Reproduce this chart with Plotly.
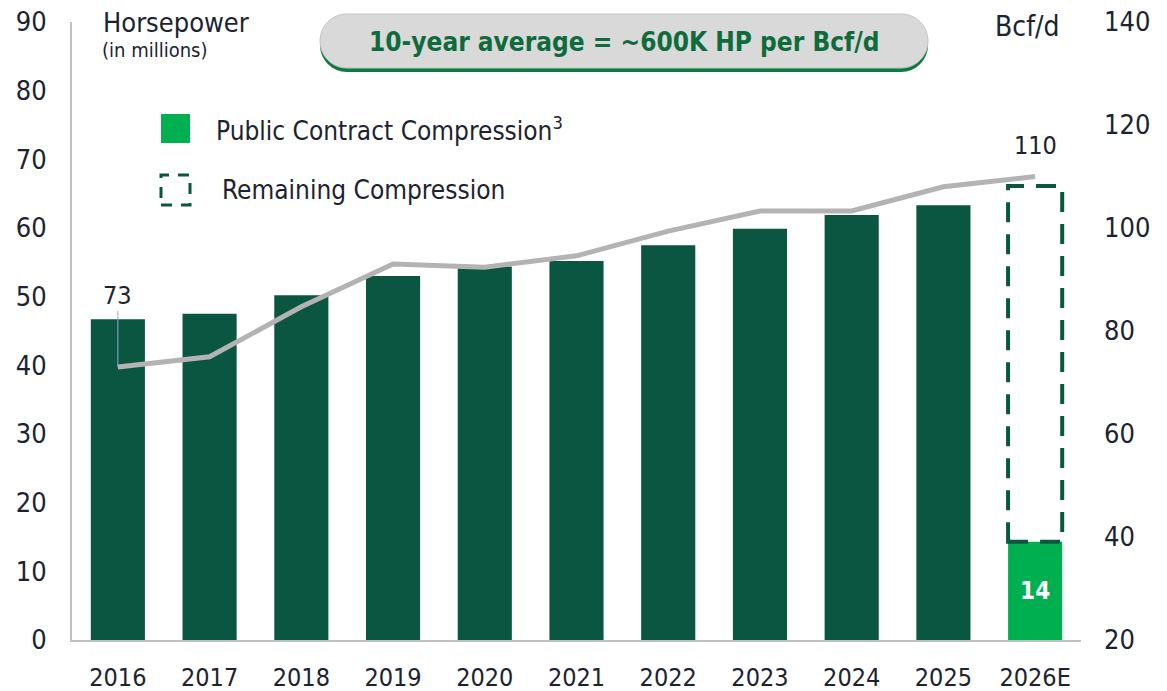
import plotly.graph_objects as go

# data
years = ['2016', '2017', '2018', '2019', '2020', '2021', '2022', '2023', '2024', '2025', '2026E']
horsepower = [46.7, 47.5, 50.2, 53.0, 54.4, 55.2, 57.5, 59.9, 61.9, 63.3, 14.3]
remaining_top = 66.1          # top of the dashed 2026E box (millions HP)
bcfd = [73, 75, 84.7, 93, 92.4, 94.6, 99.4, 103.3, 103.3, 108, 110]

DARK = '#0B5640'
BRIGHT = '#00B050'
GREY_LINE = '#B3B3B3'
TXT = '#1C2330'
FONT = 'DejaVu Sans Condensed, Tahoma, DejaVu Sans, sans-serif'

# page has an 8px body margin, so the figure is a bit smaller and shifted
OFF = 8
W, H = 1167 - OFF, 691 - OFF
L, R, T, B = 72 - OFF, 86, 22 - OFF, 51
PW, PH = W - L - R, H - T - B

def px(x):      # screen pixel -> paper x
    return (x - OFF - L) / PW

def py(y):      # screen pixel -> paper y
    return (H + OFF - B - y) / PH

bar_colors = [DARK] * (len(years) - 1) + [BRIGHT]
bar_text = [''] * (len(years) - 1) + [f'<b>{horsepower[-1]:.0f}</b>']

fig = go.Figure()
fig.add_trace(go.Bar(x=years, y=horsepower, marker=dict(color=bar_colors, line=dict(width=0)),
                     text=bar_text, textposition='inside', insidetextanchor='middle',
                     textfont=dict(color='white', size=24, family=FONT), textangle=0,
                     showlegend=False, hoverinfo='skip'))
fig.add_trace(go.Scatter(x=years, y=bcfd, yaxis='y2', mode='lines',
                         line=dict(color=GREY_LINE, width=5), showlegend=False))

# dashed box for remaining compression on the last bar
i_last = len(years) - 1
half = 0.295
fig.add_shape(type='rect', xref='x', yref='y', x0=i_last - half, x1=i_last + half,
              y0=horsepower[-1], y1=remaining_top,
              line=dict(color=DARK, width=4, dash='20px,12px'), fillcolor='rgba(0,0,0,0)')

# title pill + green shadow (pixel-sized)
def pill(w, h):
    r = h / 2
    k = 0.5523 * r
    a = w / 2 - r
    return (f'M {-a},{-r} L {a},{-r} C {a + k},{-r} {w/2},{-k} {w/2},0 '
            f'C {w/2},{k} {a + k},{r} {a},{r} L {-a},{r} '
            f'C {-a - k},{r} {-w/2},{k} {-w/2},0 C {-w/2},{-k} {-a - k},{-r} {-a},{-r} Z')

fig.add_shape(type='path', xref='paper', yref='paper', xsizemode='pixel', ysizemode='pixel',
              xanchor=px(624), yanchor=py(45), path=pill(608, 54),
              fillcolor='#0E7A43', line=dict(width=0), layer='above')
fig.add_shape(type='path', xref='paper', yref='paper', xsizemode='pixel', ysizemode='pixel',
              xanchor=px(624), yanchor=py(41), path=pill(608, 54),
              fillcolor='#D9D9D9', line=dict(color='#C4C4C4', width=1), layer='above')

# legend
fig.add_shape(type='rect', xref='paper', yref='paper', x0=px(161), x1=px(190), y0=py(143), y1=py(114),
              fillcolor=BRIGHT, line=dict(width=0))
fig.add_shape(type='rect', xref='paper', yref='paper', x0=px(161), x1=px(190), y0=py(205), y1=py(175),
              fillcolor='rgba(0,0,0,0)', line=dict(color=DARK, width=3, dash='11px,9px'))

annotations = [
    dict(x=px(624), y=py(42), text='<b>10-year average = ~600K HP per Bcf/d</b>',
         font=dict(size=26, color='#0E6B3C')),
    dict(x=px(101), y=py(22), text='Horsepower', xanchor='left', font=dict(size=27, color=TXT)),
    dict(x=px(100), y=py(50), text='(in millions)', xanchor='left', font=dict(size=20, color=TXT)),
    dict(x=px(1061), y=py(27), text='Bcf/d', xanchor='right', font=dict(size=28, color=TXT)),
    dict(x=px(214), y=py(129), text='Public Contract Compression<sup>3</sup>', xanchor='left',
         font=dict(size=26, color=TXT)),
    dict(x=px(220), y=py(190), text='Remaining Compression', xanchor='left',
         font=dict(size=26, color=TXT)),
]
for a in annotations:
    a.update(xref='paper', yref='paper', showarrow=False, yanchor='middle')
    a.setdefault('xanchor', 'center')
    a['font'].setdefault('family', FONT)
    fig.add_annotation(**a)

# point labels (category index, since '2016' would be read as a number)
fig.add_annotation(x=0, y=bcfd[0], xref='x', yref='y2', text=f'{bcfd[0]}',
                   showarrow=True, arrowhead=0, arrowwidth=1, arrowcolor='#8EA9C8',
                   ax=0, ay=-72, standoff=0, font=dict(size=25, color=TXT, family=FONT))
fig.add_annotation(x=i_last, y=bcfd[-1], xref='x', yref='y2', text=f'{bcfd[-1]}',
                   showarrow=False, yshift=31, font=dict(size=25, color=TXT, family=FONT))

fig.update_layout(
    width=W, height=H,
    margin=dict(l=L, r=R, t=T, b=B, autoexpand=False),
    plot_bgcolor='white', paper_bgcolor='white',
    font=dict(family=FONT, size=25, color=TXT),
    bargap=0.41,
    xaxis=dict(type='category', range=[-0.5, len(years) - 0.5], showgrid=False, showline=True,
               linecolor='#BFBFBF', linewidth=2,
               ticks='', ticklabelstandoff=14, tickfont=dict(size=25), automargin=False),
    yaxis=dict(range=[0, 90], dtick=10, showgrid=False, zeroline=False,
               showline=True, linecolor='#BFBFBF', linewidth=2, ticks='',
               ticklabelstandoff=18, tickfont=dict(size=27), automargin=False,
               ticklabeloverflow='allow'),
    yaxis2=dict(range=[20, 140], dtick=20, overlaying='y', side='right', showgrid=False,
                zeroline=False, showline=False, ticks='', ticklabelstandoff=22,
                tickfont=dict(size=27), automargin=False, ticklabeloverflow='allow'),
)

fig.write_html('out.html')
